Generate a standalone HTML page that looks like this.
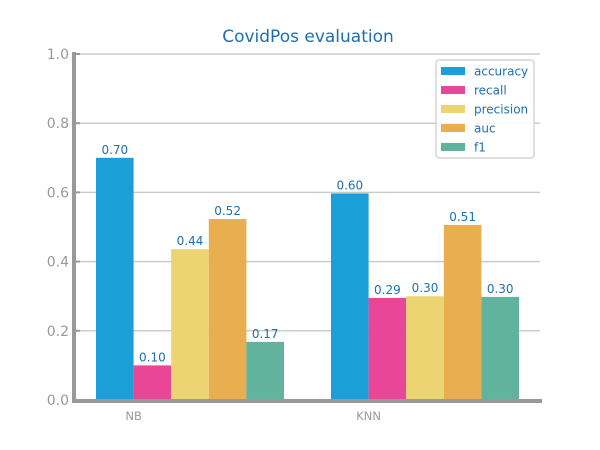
<!DOCTYPE html>
<html><head><meta charset="utf-8"><style>
body{margin:0;background:#fff;}
svg{display:block;font-family:"DejaVu Sans","Liberation Sans",sans-serif;}
</style></head><body>
<svg id="chart" width="600" height="450">
<rect width="600" height="450" fill="#fff"/>
<text x="308" y="42" text-anchor="middle" font-size="17" fill="#1f6fb0">CovidPos evaluation</text>
<g id="grid"></g>
<g id="bars"></g>
<g id="axes"></g>
<g id="legend"></g>
</svg>
<script>
const categories = ["NB","KNN"];
const metrics = ["accuracy","recall","precision","auc","f1"];
const colors = ["#1a9fd8","#ea4697","#edd473","#e9ae50","#62b39e"];
const nbValues = [0.70,0.10,0.436,0.523,0.168];
const knnValues = [0.597,0.295,0.30,0.506,0.298];
const series = [nbValues, knnValues];
const yTicks = [0,0.2,0.4,0.6,0.8,1.0];

const NS="http://www.w3.org/2000/svg";
const x0=75,x1=540,yTop=54,yBot=400;
const y=v=>yBot-(yBot-yTop)*v;
const barW=37.6;
const groupStart=[96,331];
function mk(t,a,p){const e=document.createElementNS(NS,t);for(const k in a)e.setAttribute(k,a[k]);p.appendChild(e);return e;}
const grid=document.getElementById('grid'),bars=document.getElementById('bars'),axes=document.getElementById('axes'),leg=document.getElementById('legend');
yTicks.forEach(t=>{
  const l=mk('line',{x1:x0,x2:x1,y1:y(t),y2:y(t),stroke:'#cccccc','stroke-width':1.5},grid);
  
  
  const tk=mk('line',{x1:x0,x2:x0+5,y1:y(t),y2:y(t),stroke:'#999','stroke-width':2},axes);
  
  
  const tx=mk('text',{x:69,y:y(t)+5,'text-anchor':'end','font-size':14,fill:'#999'},axes);
  tx.textContent=t.toFixed(1);
  
  
});
series.forEach((vals,gi)=>{
  vals.forEach((v,mi)=>{
    const bx=groupStart[gi]+mi*barW;
    const r=mk('rect',{x:bx,y:y(v),width:barW,height:yBot-y(v),fill:colors[mi]},bars);
    
    
    const t=mk('text',{x:bx+barW/2,y:y(v)-4,'text-anchor':'middle','font-size':12,fill:'#1f6fb0'},bars);
    t.textContent=v.toFixed(2);
    
    
  });
  const cl=mk('text',{x:groupStart[gi]+barW,y:420,'text-anchor':'middle','font-size':11.5,fill:'#999'},axes);
  cl.textContent=categories[gi];
  
  
});
const la=mk('line',{x1:x0-1,x2:x0-1,y1:yTop-2,y2:yBot+2,stroke:'#999','stroke-width':4},axes);


const lb=mk('line',{x1:x0-3,x2:x1+2,y1:yBot+1,y2:yBot+1,stroke:'#999','stroke-width':4},axes);


const box=mk('rect',{x:436,y:60,width:98,height:98,rx:3,fill:'#fff','fill-opacity':0.85,stroke:'#d5d5d5','stroke-width':1.5},leg);


metrics.forEach((m,i)=>{
  const yy=71+i*19;
  const s=mk('rect',{x:441,y:yy-4,width:24,height:8,fill:colors[i]},leg);
  
  
  const t=mk('text',{x:474,y:yy+4.5,'font-size':12,fill:'#1f6fb0'},leg);
  t.textContent=m;
  
  
});
</script>
</body></html>
